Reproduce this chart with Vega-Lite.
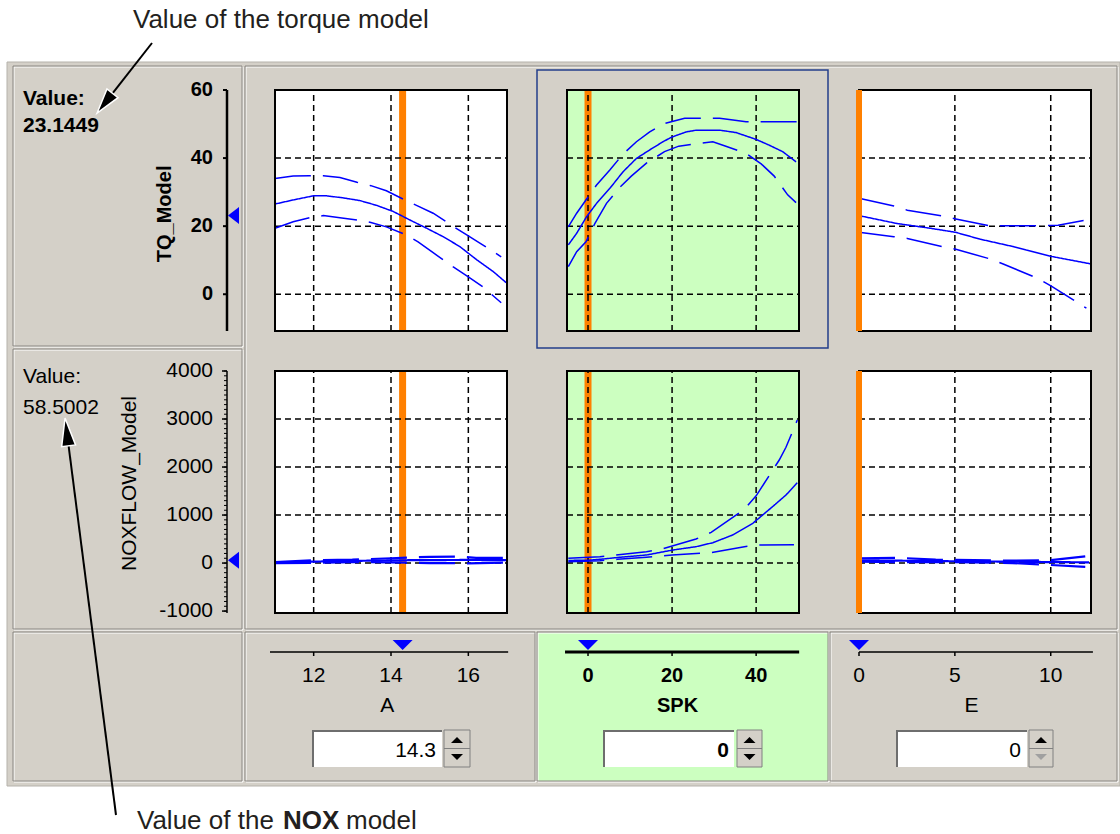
{
"$schema": "https://vega.github.io/schema/vega-lite/v6.json",
"width": 1120, "height": 834, "padding": 0, "autosize": {"type": "none"},
"background": "#FFFFFF",
"config": {"view": {"stroke": null}, "font": "Liberation Sans"},
"datasets": {
"tq_A": [
{"A":11.0,"TQ":26.5,"band":"main"},{"A":11.47,"TQ":27.7,"band":"main"},{"A":11.99,"TQ":28.9,"band":"main"},{"A":12.34,"TQ":28.9,"band":"main"},{"A":12.77,"TQ":28.3,"band":"main"},{"A":13.2,"TQ":27.5,"band":"main"},{"A":13.63,"TQ":26.1,"band":"main"},{"A":14.06,"TQ":24.3,"band":"main"},{"A":14.49,"TQ":21.8,"band":"main"},{"A":14.92,"TQ":19.4,"band":"main"},{"A":15.35,"TQ":16.9,"band":"main"},{"A":15.78,"TQ":14.0,"band":"main"},{"A":16.22,"TQ":10.1,"band":"main"},{"A":16.65,"TQ":6.6,"band":"main"},{"A":16.98,"TQ":3.4,"band":"main"},
{"A":11.0,"TQ":34.0,"band":"upper"},{"A":11.47,"TQ":34.7,"band":"upper"},{"A":11.9,"TQ":34.8,"band":"upper"},{"A":12.25,"TQ":34.8,"band":"upper"},{"A":12.68,"TQ":34.3,"band":"upper"},{"A":13.12,"TQ":32.9,"band":"upper"},{"A":13.48,"TQ":31.9,"band":"upper"},{"A":13.88,"TQ":30.4,"band":"upper"},{"A":14.36,"TQ":27.7,"band":"upper"},{"A":14.7,"TQ":25.9,"band":"upper"},{"A":15.09,"TQ":23.8,"band":"upper"},{"A":15.6,"TQ":20.0,"band":"upper"},{"A":15.99,"TQ":17.2,"band":"upper"},{"A":16.37,"TQ":14.5,"band":"upper"},{"A":16.85,"TQ":11.0,"band":"upper"},
{"A":11.0,"TQ":19.4,"band":"lower"},{"A":11.47,"TQ":21.3,"band":"lower"},{"A":11.9,"TQ":22.5,"band":"lower"},{"A":12.25,"TQ":23.1,"band":"lower"},{"A":12.68,"TQ":22.5,"band":"lower"},{"A":13.12,"TQ":21.8,"band":"lower"},{"A":13.48,"TQ":21.1,"band":"lower"},{"A":13.88,"TQ":19.8,"band":"lower"},{"A":14.36,"TQ":17.6,"band":"lower"},{"A":14.7,"TQ":15.4,"band":"lower"},{"A":15.09,"TQ":12.2,"band":"lower"},{"A":15.6,"TQ":8.1,"band":"lower"},{"A":15.99,"TQ":5.2,"band":"lower"},{"A":16.37,"TQ":2.2,"band":"lower"},{"A":16.85,"TQ":-2.5,"band":"lower"}
],
"tq_SPK": [
{"SPK":-4.69,"TQ":14.5,"band":"main"},{"SPK":-2.7,"TQ":17.9,"band":"main"},{"SPK":-0.33,"TQ":22.8,"band":"main"},{"SPK":2.04,"TQ":26.7,"band":"main"},{"SPK":5.19,"TQ":31.1,"band":"main"},{"SPK":8.35,"TQ":36.0,"band":"main"},{"SPK":11.52,"TQ":39.9,"band":"main"},{"SPK":14.68,"TQ":42.4,"band":"main"},{"SPK":17.84,"TQ":44.8,"band":"main"},{"SPK":19.8,"TQ":46.1,"band":"main"},{"SPK":23.4,"TQ":47.7,"band":"main"},{"SPK":25.75,"TQ":48.2,"band":"main"},{"SPK":31.3,"TQ":48.2,"band":"main"},{"SPK":35.2,"TQ":47.5,"band":"main"},{"SPK":39.97,"TQ":45.5,"band":"main"},{"SPK":43.1,"TQ":43.8,"band":"main"},{"SPK":46.3,"TQ":41.9,"band":"main"},{"SPK":49.5,"TQ":38.9,"band":"main"},
{"SPK":-4.69,"TQ":19.8,"band":"upper"},{"SPK":-2.7,"TQ":23.8,"band":"upper"},{"SPK":-0.49,"TQ":27.7,"band":"upper"},{"SPK":2.04,"TQ":32.1,"band":"upper"},{"SPK":5.19,"TQ":36.5,"band":"upper"},{"SPK":8.35,"TQ":41.2,"band":"upper"},{"SPK":11.52,"TQ":44.8,"band":"upper"},{"SPK":14.68,"TQ":47.7,"band":"upper"},{"SPK":17.84,"TQ":50.0,"band":"upper"},{"SPK":19.8,"TQ":50.7,"band":"upper"},{"SPK":23.0,"TQ":51.7,"band":"upper"},{"SPK":31.3,"TQ":51.7,"band":"upper"},{"SPK":34.5,"TQ":51.2,"band":"upper"},{"SPK":37.6,"TQ":50.7,"band":"upper"},{"SPK":42.8,"TQ":50.7,"band":"upper"},{"SPK":45.9,"TQ":50.7,"band":"upper"},{"SPK":50.0,"TQ":50.7,"band":"upper"},
{"SPK":-4.69,"TQ":8.1,"band":"lower"},{"SPK":-2.7,"TQ":12.5,"band":"lower"},{"SPK":-0.49,"TQ":15.4,"band":"lower"},{"SPK":1.65,"TQ":20.8,"band":"lower"},{"SPK":4.4,"TQ":26.7,"band":"lower"},{"SPK":7.56,"TQ":31.4,"band":"lower"},{"SPK":10.3,"TQ":34.7,"band":"lower"},{"SPK":13.9,"TQ":38.5,"band":"lower"},{"SPK":18.2,"TQ":41.9,"band":"lower"},{"SPK":21.6,"TQ":43.5,"band":"lower"},{"SPK":29.7,"TQ":44.8,"band":"lower"},{"SPK":32.8,"TQ":43.5,"band":"lower"},{"SPK":37.6,"TQ":41.4,"band":"lower"},{"SPK":41.2,"TQ":38.3,"band":"lower"},{"SPK":44.3,"TQ":34.7,"band":"lower"},{"SPK":47.5,"TQ":29.2,"band":"lower"},{"SPK":49.5,"TQ":26.9,"band":"lower"}
],
"tq_E": [
{"E":0.0,"TQ":23.1,"band":"main"},{"E":1.96,"TQ":20.8,"band":"main"},{"E":3.7,"TQ":19.4,"band":"main"},{"E":5.03,"TQ":18.2,"band":"main"},{"E":6.3,"TQ":16.2,"band":"main"},{"E":8.04,"TQ":14.0,"band":"main"},{"E":9.95,"TQ":11.2,"band":"main"},{"E":12.1,"TQ":8.9,"band":"main"},
{"E":0.0,"TQ":28.2,"band":"upper"},{"E":1.82,"TQ":25.9,"band":"upper"},{"E":2.52,"TQ":24.7,"band":"upper"},{"E":4.31,"TQ":23.0,"band":"upper"},{"E":5.05,"TQ":22.1,"band":"upper"},{"E":6.82,"TQ":20.1,"band":"upper"},{"E":7.86,"TQ":20.1,"band":"upper"},{"E":9.34,"TQ":20.1,"band":"upper"},{"E":10.38,"TQ":20.3,"band":"upper"},{"E":11.86,"TQ":21.8,"band":"upper"},
{"E":0.0,"TQ":18.2,"band":"lower"},{"E":1.82,"TQ":16.9,"band":"lower"},{"E":2.52,"TQ":16.4,"band":"lower"},{"E":4.31,"TQ":14.0,"band":"lower"},{"E":5.05,"TQ":13.2,"band":"lower"},{"E":6.82,"TQ":10.4,"band":"lower"},{"E":7.52,"TQ":8.9,"band":"lower"},{"E":9.34,"TQ":4.6,"band":"lower"},{"E":10.03,"TQ":2.4,"band":"lower"},{"E":11.86,"TQ":-4.1,"band":"lower"}
],
"nox_A": [
{"A":11,"NOX":10,"band":"main"},{"A":12,"NOX":30,"band":"main"},{"A":13,"NOX":45,"band":"main"},{"A":14,"NOX":55,"band":"main"},{"A":14.3,"NOX":58.5,"band":"main"},{"A":15,"NOX":62,"band":"main"},{"A":16,"NOX":65,"band":"main"},{"A":17,"NOX":60,"band":"main"},
{"A":11,"NOX":20,"band":"upper"},{"A":12,"NOX":60,"band":"upper"},{"A":13,"NOX":70,"band":"upper"},{"A":14,"NOX":100,"band":"upper"},{"A":15,"NOX":130,"band":"upper"},{"A":15.8,"NOX":135,"band":"upper"},{"A":16.2,"NOX":110,"band":"upper"},{"A":17,"NOX":110,"band":"upper"},
{"A":11,"NOX":0,"band":"lower"},{"A":12,"NOX":5,"band":"lower"},{"A":13,"NOX":20,"band":"lower"},{"A":14,"NOX":15,"band":"lower"},{"A":15,"NOX":0,"band":"lower"},{"A":16,"NOX":-5,"band":"lower"},{"A":17,"NOX":10,"band":"lower"}
],
"nox_SPK": [
{"SPK":-4.69,"NOX":55,"band":"main"},{"SPK":0,"NOX":58.5,"band":"main"},{"SPK":2.82,"NOX":78,"band":"main"},{"SPK":7.56,"NOX":120,"band":"main"},{"SPK":13.9,"NOX":168,"band":"main"},{"SPK":20.2,"NOX":272,"band":"main"},{"SPK":25.7,"NOX":341,"band":"main"},{"SPK":29.7,"NOX":424,"band":"main"},{"SPK":34.4,"NOX":584,"band":"main"},{"SPK":39.2,"NOX":828,"band":"main"},{"SPK":43.9,"NOX":1174,"band":"main"},{"SPK":47.1,"NOX":1417,"band":"main"},{"SPK":49.8,"NOX":1673,"band":"main"},
{"SPK":-4.69,"NOX":100,"band":"upper"},{"SPK":2.82,"NOX":132,"band":"upper"},{"SPK":13.9,"NOX":237,"band":"upper"},{"SPK":17.8,"NOX":300,"band":"upper"},{"SPK":25.7,"NOX":500,"band":"upper"},{"SPK":29.3,"NOX":640,"band":"upper"},{"SPK":37.2,"NOX":1120,"band":"upper"},{"SPK":40.0,"NOX":1400,"band":"upper"},{"SPK":45.5,"NOX":2146,"band":"upper"},{"SPK":47.1,"NOX":2411,"band":"upper"},{"SPK":49.8,"NOX":2979,"band":"upper"},
{"SPK":-4.69,"NOX":28,"band":"lower"},{"SPK":2.82,"NOX":49,"band":"lower"},{"SPK":7.0,"NOX":78,"band":"lower"},{"SPK":13.9,"NOX":120,"band":"lower"},{"SPK":20.0,"NOX":168,"band":"lower"},{"SPK":25.7,"NOX":200,"band":"lower"},{"SPK":29.3,"NOX":215,"band":"lower"},{"SPK":37.2,"NOX":340,"band":"lower"},{"SPK":40.0,"NOX":376,"band":"lower"},{"SPK":49.0,"NOX":380,"band":"lower"}
],
"nox_E": [
{"E":0,"NOX":58.5,"band":"main"},{"E":2,"NOX":50,"band":"main"},{"E":4,"NOX":40,"band":"main"},{"E":6,"NOX":35,"band":"main"},{"E":8,"NOX":30,"band":"main"},{"E":10,"NOX":20,"band":"main"},{"E":12,"NOX":15,"band":"main"},
{"E":0,"NOX":100,"band":"upper"},{"E":2,"NOX":110,"band":"upper"},{"E":4,"NOX":70,"band":"upper"},{"E":6,"NOX":60,"band":"upper"},{"E":8,"NOX":50,"band":"upper"},{"E":10,"NOX":60,"band":"upper"},{"E":11.8,"NOX":140,"band":"upper"},
{"E":0,"NOX":30,"band":"lower"},{"E":2,"NOX":20,"band":"lower"},{"E":4,"NOX":20,"band":"lower"},{"E":6,"NOX":15,"band":"lower"},{"E":8,"NOX":0,"band":"lower"},{"E":10,"NOX":-40,"band":"lower"},{"E":11.8,"NOX":-80,"band":"lower"}
],
"nox_minor": [
{"v":-1000},{"v":-900},{"v":-800},{"v":-700},{"v":-600},{"v":-500},{"v":-400},{"v":-300},{"v":-200},{"v":-100},{"v":0},{"v":100},{"v":200},{"v":300},{"v":400},{"v":500},{"v":600},{"v":700},{"v":800},{"v":900},{"v":1000},{"v":1100},{"v":1200},{"v":1300},{"v":1400},{"v":1500},{"v":1600},{"v":1700},{"v":1800},{"v":1900},{"v":2000},{"v":2100},{"v":2200},{"v":2300},{"v":2400},{"v":2500},{"v":2600},{"v":2700},{"v":2800},{"v":2900},{"v":3000},{"v":3100},{"v":3200},{"v":3300},{"v":3400},{"v":3500},{"v":3600},{"v":3700},{"v":3800},{"v":3900},{"v":4000}
]
},
"resolve": {"scale": {"x": "independent", "y": "independent"}, "axis": {"x": "independent", "y": "independent"}},
"layer": [
{
"data": {"values": [{}]},
"layer": [
{"mark": {"type": "rect", "fill": "#D4D0C8", "stroke": "#B5B2AB", "strokeWidth": 1}, "encoding": {"x": {"datum": 7, "type": "quantitative", "scale": {"domain": [0,1120], "range": [0,1120], "nice": false, "zero": false}, "axis": null}, "x2": {"datum": 1120}, "y": {"datum": 62, "type": "quantitative", "scale": {"domain": [0,834], "range": [0,834], "nice": false, "zero": false}, "axis": null}, "y2": {"datum": 786}}},
{"mark": {"type": "rect", "fill": "#CCFFC0"}, "encoding": {"x": {"datum": 538, "type": "quantitative", "axis": null}, "x2": {"datum": 828}, "y": {"datum": 633, "type": "quantitative", "axis": null}, "y2": {"datum": 781}}},
{"mark": {"type": "rect", "fill": "transparent", "stroke": "#FFFFFF", "strokeWidth": 1}, "encoding": {"x": {"datum": 14, "type": "quantitative", "axis": null}, "x2": {"datum": 243}, "y": {"datum": 67, "type": "quantitative", "axis": null}, "y2": {"datum": 347}}},
{"mark": {"type": "rect", "fill": "transparent", "stroke": "#8A8782", "strokeWidth": 1}, "encoding": {"x": {"datum": 13, "type": "quantitative", "axis": null}, "x2": {"datum": 242}, "y": {"datum": 66, "type": "quantitative", "axis": null}, "y2": {"datum": 346}}},
{"mark": {"type": "rect", "fill": "transparent", "stroke": "#FFFFFF", "strokeWidth": 1}, "encoding": {"x": {"datum": 14, "type": "quantitative", "axis": null}, "x2": {"datum": 243}, "y": {"datum": 350, "type": "quantitative", "axis": null}, "y2": {"datum": 630}}},
{"mark": {"type": "rect", "fill": "transparent", "stroke": "#8A8782", "strokeWidth": 1}, "encoding": {"x": {"datum": 13, "type": "quantitative", "axis": null}, "x2": {"datum": 242}, "y": {"datum": 349, "type": "quantitative", "axis": null}, "y2": {"datum": 629}}},
{"mark": {"type": "rect", "fill": "transparent", "stroke": "#FFFFFF", "strokeWidth": 1}, "encoding": {"x": {"datum": 14, "type": "quantitative", "axis": null}, "x2": {"datum": 243}, "y": {"datum": 633, "type": "quantitative", "axis": null}, "y2": {"datum": 782}}},
{"mark": {"type": "rect", "fill": "transparent", "stroke": "#8A8782", "strokeWidth": 1}, "encoding": {"x": {"datum": 13, "type": "quantitative", "axis": null}, "x2": {"datum": 242}, "y": {"datum": 632, "type": "quantitative", "axis": null}, "y2": {"datum": 781}}},
{"mark": {"type": "rect", "fill": "transparent", "stroke": "#FFFFFF", "strokeWidth": 1}, "encoding": {"x": {"datum": 246, "type": "quantitative", "axis": null}, "x2": {"datum": 1118}, "y": {"datum": 67, "type": "quantitative", "axis": null}, "y2": {"datum": 630}}},
{"mark": {"type": "rect", "fill": "transparent", "stroke": "#8A8782", "strokeWidth": 1}, "encoding": {"x": {"datum": 245, "type": "quantitative", "axis": null}, "x2": {"datum": 1117}, "y": {"datum": 66, "type": "quantitative", "axis": null}, "y2": {"datum": 629}}},
{"mark": {"type": "rect", "fill": "transparent", "stroke": "#FFFFFF", "strokeWidth": 1}, "encoding": {"x": {"datum": 246, "type": "quantitative", "axis": null}, "x2": {"datum": 536}, "y": {"datum": 633, "type": "quantitative", "axis": null}, "y2": {"datum": 782}}},
{"mark": {"type": "rect", "fill": "transparent", "stroke": "#8A8782", "strokeWidth": 1}, "encoding": {"x": {"datum": 245, "type": "quantitative", "axis": null}, "x2": {"datum": 535}, "y": {"datum": 632, "type": "quantitative", "axis": null}, "y2": {"datum": 781}}},
{"mark": {"type": "rect", "fill": "transparent", "stroke": "#FFFFFF", "strokeWidth": 1}, "encoding": {"x": {"datum": 538, "type": "quantitative", "axis": null}, "x2": {"datum": 829}, "y": {"datum": 633, "type": "quantitative", "axis": null}, "y2": {"datum": 782}}},
{"mark": {"type": "rect", "fill": "transparent", "stroke": "#8A8782", "strokeWidth": 1}, "encoding": {"x": {"datum": 537, "type": "quantitative", "axis": null}, "x2": {"datum": 828}, "y": {"datum": 632, "type": "quantitative", "axis": null}, "y2": {"datum": 781}}},
{"mark": {"type": "rect", "fill": "transparent", "stroke": "#FFFFFF", "strokeWidth": 1}, "encoding": {"x": {"datum": 831, "type": "quantitative", "axis": null}, "x2": {"datum": 1118}, "y": {"datum": 633, "type": "quantitative", "axis": null}, "y2": {"datum": 782}}},
{"mark": {"type": "rect", "fill": "transparent", "stroke": "#8A8782", "strokeWidth": 1}, "encoding": {"x": {"datum": 830, "type": "quantitative", "axis": null}, "x2": {"datum": 1117}, "y": {"datum": 632, "type": "quantitative", "axis": null}, "y2": {"datum": 781}}},
{"mark": {"type": "rect", "fill": "transparent", "stroke": "#233E8B", "strokeWidth": 1.5}, "encoding": {"x": {"datum": 537, "type": "quantitative", "axis": null}, "x2": {"datum": 828}, "y": {"datum": 70, "type": "quantitative", "axis": null}, "y2": {"datum": 348}}},

{"mark": {"type": "rect", "fill": "#FFFFFF"}, "encoding": {"x": {"datum": 312, "type": "quantitative", "axis": null}, "x2": {"datum": 442}, "y": {"datum": 730, "type": "quantitative", "axis": null}, "y2": {"datum": 767}}},
{"mark": {"type": "rule", "color": "#6E6E6E", "strokeWidth": 2}, "encoding": {"x": {"datum": 312, "type": "quantitative", "axis": null}, "x2": {"datum": 442}, "y": {"datum": 731, "type": "quantitative", "axis": null}}},
{"mark": {"type": "rule", "color": "#6E6E6E", "strokeWidth": 2}, "encoding": {"x": {"datum": 313, "type": "quantitative", "axis": null}, "y": {"datum": 730, "type": "quantitative", "axis": null}, "y2": {"datum": 767}}},
{"mark": {"type": "rect", "fill": "#FFFFFF"}, "encoding": {"x": {"datum": 603, "type": "quantitative", "axis": null}, "x2": {"datum": 734}, "y": {"datum": 730, "type": "quantitative", "axis": null}, "y2": {"datum": 767}}},
{"mark": {"type": "rule", "color": "#6E6E6E", "strokeWidth": 2}, "encoding": {"x": {"datum": 603, "type": "quantitative", "axis": null}, "x2": {"datum": 734}, "y": {"datum": 731, "type": "quantitative", "axis": null}}},
{"mark": {"type": "rule", "color": "#6E6E6E", "strokeWidth": 2}, "encoding": {"x": {"datum": 604, "type": "quantitative", "axis": null}, "y": {"datum": 730, "type": "quantitative", "axis": null}, "y2": {"datum": 767}}},
{"mark": {"type": "rect", "fill": "#FFFFFF"}, "encoding": {"x": {"datum": 896, "type": "quantitative", "axis": null}, "x2": {"datum": 1027}, "y": {"datum": 730, "type": "quantitative", "axis": null}, "y2": {"datum": 767}}},
{"mark": {"type": "rule", "color": "#6E6E6E", "strokeWidth": 2}, "encoding": {"x": {"datum": 896, "type": "quantitative", "axis": null}, "x2": {"datum": 1027}, "y": {"datum": 731, "type": "quantitative", "axis": null}}},
{"mark": {"type": "rule", "color": "#6E6E6E", "strokeWidth": 2}, "encoding": {"x": {"datum": 897, "type": "quantitative", "axis": null}, "y": {"datum": 730, "type": "quantitative", "axis": null}, "y2": {"datum": 767}}},

{"mark": {"type": "rect", "fill": "#D4D0C8", "stroke": "#808080", "strokeWidth": 1}, "encoding": {"x": {"datum": 444, "type": "quantitative", "axis": null}, "x2": {"datum": 470}, "y": {"datum": 730, "type": "quantitative", "axis": null}, "y2": {"datum": 767}}},
{"mark": {"type": "rule", "color": "#808080", "strokeWidth": 1}, "encoding": {"x": {"datum": 444, "type": "quantitative", "axis": null}, "x2": {"datum": 470}, "y": {"datum": 748.5, "type": "quantitative", "axis": null}}},
{"mark": {"type": "point", "shape": "M-1,0.5L1,0.5L0,-0.5Z", "size": 144, "filled": true, "color": "#000000", "opacity": 1}, "encoding": {"x": {"datum": 457, "type": "quantitative", "axis": null}, "y": {"datum": 740, "type": "quantitative", "axis": null}}},
{"mark": {"type": "point", "shape": "M-1,-0.5L1,-0.5L0,0.5Z", "size": 144, "filled": true, "color": "#000000", "opacity": 1}, "encoding": {"x": {"datum": 457, "type": "quantitative", "axis": null}, "y": {"datum": 757, "type": "quantitative", "axis": null}}},
{"mark": {"type": "rect", "fill": "#D4D0C8", "stroke": "#808080", "strokeWidth": 1}, "encoding": {"x": {"datum": 737, "type": "quantitative", "axis": null}, "x2": {"datum": 762}, "y": {"datum": 730, "type": "quantitative", "axis": null}, "y2": {"datum": 767}}},
{"mark": {"type": "rule", "color": "#808080", "strokeWidth": 1}, "encoding": {"x": {"datum": 737, "type": "quantitative", "axis": null}, "x2": {"datum": 762}, "y": {"datum": 748.5, "type": "quantitative", "axis": null}}},
{"mark": {"type": "point", "shape": "M-1,0.5L1,0.5L0,-0.5Z", "size": 144, "filled": true, "color": "#000000", "opacity": 1}, "encoding": {"x": {"datum": 749.5, "type": "quantitative", "axis": null}, "y": {"datum": 740, "type": "quantitative", "axis": null}}},
{"mark": {"type": "point", "shape": "M-1,-0.5L1,-0.5L0,0.5Z", "size": 144, "filled": true, "color": "#000000", "opacity": 1}, "encoding": {"x": {"datum": 749.5, "type": "quantitative", "axis": null}, "y": {"datum": 757, "type": "quantitative", "axis": null}}},
{"mark": {"type": "rect", "fill": "#D4D0C8", "stroke": "#808080", "strokeWidth": 1}, "encoding": {"x": {"datum": 1029, "type": "quantitative", "axis": null}, "x2": {"datum": 1053}, "y": {"datum": 730, "type": "quantitative", "axis": null}, "y2": {"datum": 767}}},
{"mark": {"type": "rule", "color": "#808080", "strokeWidth": 1}, "encoding": {"x": {"datum": 1029, "type": "quantitative", "axis": null}, "x2": {"datum": 1053}, "y": {"datum": 748.5, "type": "quantitative", "axis": null}}},
{"mark": {"type": "point", "shape": "M-1,0.5L1,0.5L0,-0.5Z", "size": 144, "filled": true, "color": "#000000", "opacity": 1}, "encoding": {"x": {"datum": 1041, "type": "quantitative", "axis": null}, "y": {"datum": 740, "type": "quantitative", "axis": null}}},
{"mark": {"type": "point", "shape": "M-1,-0.5L1,-0.5L0,0.5Z", "size": 144, "filled": true, "color": "#A0A0A0", "opacity": 1}, "encoding": {"x": {"datum": 1041, "type": "quantitative", "axis": null}, "y": {"datum": 757, "type": "quantitative", "axis": null}}},

{"mark": {"type": "text", "text": "Value:", "font": "Liberation Sans", "fontSize": 21, "fontWeight": "bold", "align": "left", "baseline": "alphabetic", "color": "#000000"}, "encoding": {"x": {"datum": 23, "type": "quantitative", "axis": null}, "y": {"datum": 105, "type": "quantitative", "axis": null}}},
{"mark": {"type": "text", "text": "23.1449", "font": "Liberation Sans", "fontSize": 21, "fontWeight": "bold", "align": "left", "baseline": "alphabetic", "color": "#000000"}, "encoding": {"x": {"datum": 23, "type": "quantitative", "axis": null}, "y": {"datum": 132, "type": "quantitative", "axis": null}}},
{"mark": {"type": "text", "text": "Value:", "font": "Liberation Sans", "fontSize": 21, "align": "left", "baseline": "alphabetic", "color": "#000000"}, "encoding": {"x": {"datum": 23, "type": "quantitative", "axis": null}, "y": {"datum": 383, "type": "quantitative", "axis": null}}},
{"mark": {"type": "text", "text": "58.5002", "font": "Liberation Sans", "fontSize": 21, "align": "left", "baseline": "alphabetic", "color": "#000000"}, "encoding": {"x": {"datum": 23, "type": "quantitative", "axis": null}, "y": {"datum": 414, "type": "quantitative", "axis": null}}},
{"mark": {"type": "text", "text": "14.3", "font": "Liberation Sans", "fontSize": 21, "align": "right", "baseline": "alphabetic", "color": "#000000"}, "encoding": {"x": {"datum": 436, "type": "quantitative", "axis": null}, "y": {"datum": 757, "type": "quantitative", "axis": null}}},
{"mark": {"type": "text", "text": "0", "font": "Liberation Sans", "fontSize": 21, "fontWeight": "bold", "align": "right", "baseline": "alphabetic", "color": "#000000"}, "encoding": {"x": {"datum": 729, "type": "quantitative", "axis": null}, "y": {"datum": 757, "type": "quantitative", "axis": null}}},
{"mark": {"type": "text", "text": "0", "font": "Liberation Sans", "fontSize": 21, "align": "right", "baseline": "alphabetic", "color": "#000000"}, "encoding": {"x": {"datum": 1021, "type": "quantitative", "axis": null}, "y": {"datum": 757, "type": "quantitative", "axis": null}}},
{"mark": {"type": "text", "text": "Value of the torque model", "font": "Liberation Sans", "fontSize": 26, "align": "left", "baseline": "alphabetic", "color": "#231F20"}, "encoding": {"x": {"datum": 133, "type": "quantitative", "axis": null}, "y": {"datum": 28, "type": "quantitative", "axis": null}}},
{"mark": {"type": "text", "text": "Value of the", "font": "Liberation Sans", "fontSize": 26, "align": "left", "baseline": "alphabetic", "color": "#231F20"}, "encoding": {"x": {"datum": 137, "type": "quantitative", "axis": null}, "y": {"datum": 829, "type": "quantitative", "axis": null}}},
{"mark": {"type": "text", "text": "NOX", "font": "Liberation Sans", "fontSize": 26, "fontWeight": "bold", "align": "left", "baseline": "alphabetic", "color": "#231F20"}, "encoding": {"x": {"datum": 283, "type": "quantitative", "axis": null}, "y": {"datum": 829, "type": "quantitative", "axis": null}}},
{"mark": {"type": "text", "text": "model", "font": "Liberation Sans", "fontSize": 26, "align": "left", "baseline": "alphabetic", "color": "#231F20"}, "encoding": {"x": {"datum": 346, "type": "quantitative", "axis": null}, "y": {"datum": 829, "type": "quantitative", "axis": null}}},
{"mark": {"type": "rule", "color": "#000000", "strokeWidth": 2}, "encoding": {"x": {"datum": 152, "type": "quantitative", "axis": null}, "x2": {"datum": 112.5}, "y": {"datum": 43, "type": "quantitative", "axis": null}, "y2": {"datum": 93.3}}},
{"mark": {"type": "point", "shape": "M0,-1L0.28,0L-0.28,0Z", "size": 2500, "filled": true, "fill": "#000000", "stroke": "#FFFFFF", "strokeWidth": 1.5, "opacity": 1, "angle": 218}, "encoding": {"x": {"datum": 112.5, "type": "quantitative", "axis": null}, "y": {"datum": 93.3, "type": "quantitative", "axis": null}}},
{"mark": {"type": "rule", "color": "#000000", "strokeWidth": 2}, "encoding": {"x": {"datum": 116, "type": "quantitative", "axis": null}, "x2": {"datum": 68.6}, "y": {"datum": 815, "type": "quantitative", "axis": null}, "y2": {"datum": 445.8}}},
{"mark": {"type": "point", "shape": "M0,-1L0.25,0L-0.25,0Z", "size": 3136, "filled": true, "fill": "#000000", "stroke": "#FFFFFF", "strokeWidth": 1.5, "opacity": 1, "angle": 352.7}, "encoding": {"x": {"datum": 68.6, "type": "quantitative", "axis": null}, "y": {"datum": 445.8, "type": "quantitative", "axis": null}}}
]
},

{
"layer": [
{"data": {"values": [{}]}, "mark": {"type": "rect", "fill": "#FFFFFF"}, "encoding": {"x": {"datum": 11, "type": "quantitative", "scale": {"domain": [11,17], "range": [275,507], "nice": false, "zero": false}, "axis": null}, "x2": {"datum": 17}, "y": {"datum": -10.8, "type": "quantitative", "scale": {"domain": [-10.8,60], "range": [331,90], "nice": false, "zero": false}, "axis": null}, "y2": {"datum": 60}}},
{"data": {"values": [{}]}, "mark": {"type": "rule", "color": "#FF8000", "strokeWidth": 7}, "encoding": {"x": {"datum": 14.3, "type": "quantitative", "axis": null}, "y": {"datum": -10.8, "type": "quantitative", "axis": null}, "y2": {"datum": 60}}},
{"data": {"values": [{"v": 12}, {"v": 14}, {"v": 16}]}, "mark": {"type": "rule", "color": "#000000", "strokeWidth": 1.5, "strokeDash": [6,4]}, "encoding": {"x": {"field": "v", "type": "quantitative", "axis": null}, "y": {"datum": -10.8, "type": "quantitative", "axis": null}, "y2": {"datum": 60}}},
{"data": {"values": [{"v": 0}, {"v": 20}, {"v": 40}]}, "mark": {"type": "rule", "color": "#000000", "strokeWidth": 1.5, "strokeDash": [6,4]}, "encoding": {"y": {"field": "v", "type": "quantitative", "axis": null}, "x": {"datum": 11, "type": "quantitative", "axis": null}, "x2": {"datum": 17}}},
{"data": {"name": "tq_A"}, "mark": {"type": "line", "color": "#0000FF", "strokeWidth": 1.5}, "encoding": {"x": {"field": "A", "type": "quantitative", "axis": null}, "y": {"field": "TQ", "type": "quantitative", "axis": null}, "strokeDash": {"field": "band", "type": "nominal", "scale": {"domain": ["main","upper","lower"], "range": [[1,0],[36,12],[36,12]]}, "legend": null}}},
{"data": {"values": [{}]}, "mark": {"type": "rect", "fill": "transparent", "stroke": "#000000", "strokeWidth": 2}, "encoding": {"x": {"datum": 11, "type": "quantitative", "axis": null}, "x2": {"datum": 17}, "y": {"datum": -10.8, "type": "quantitative", "axis": null}, "y2": {"datum": 60}}}
]
},

{
"layer": [
{"data": {"values": [{}]}, "mark": {"type": "rect", "fill": "#CCFFC0"}, "encoding": {"x": {"datum": -5, "type": "quantitative", "scale": {"domain": [-5,50.2], "range": [567,799], "nice": false, "zero": false}, "axis": null}, "x2": {"datum": 50.2}, "y": {"datum": -10.8, "type": "quantitative", "scale": {"domain": [-10.8,60], "range": [331,90], "nice": false, "zero": false}, "axis": null}, "y2": {"datum": 60}}},
{"data": {"values": [{}]}, "mark": {"type": "rule", "color": "#FF8000", "strokeWidth": 7}, "encoding": {"x": {"datum": 0, "type": "quantitative", "axis": null}, "y": {"datum": -10.8, "type": "quantitative", "axis": null}, "y2": {"datum": 60}}},
{"data": {"values": [{"v": 0}, {"v": 20}, {"v": 40}]}, "mark": {"type": "rule", "color": "#000000", "strokeWidth": 1.5, "strokeDash": [6,4]}, "encoding": {"x": {"field": "v", "type": "quantitative", "axis": null}, "y": {"datum": -10.8, "type": "quantitative", "axis": null}, "y2": {"datum": 60}}},
{"data": {"values": [{"v": 0}, {"v": 20}, {"v": 40}]}, "mark": {"type": "rule", "color": "#000000", "strokeWidth": 1.5, "strokeDash": [6,4]}, "encoding": {"y": {"field": "v", "type": "quantitative", "axis": null}, "x": {"datum": -5, "type": "quantitative", "axis": null}, "x2": {"datum": 50.2}}},
{"data": {"name": "tq_SPK"}, "mark": {"type": "line", "color": "#0000FF", "strokeWidth": 1.5}, "encoding": {"x": {"field": "SPK", "type": "quantitative", "axis": null}, "y": {"field": "TQ", "type": "quantitative", "axis": null}, "strokeDash": {"field": "band", "type": "nominal", "scale": {"domain": ["main","upper","lower"], "range": [[1,0],[36,12],[36,12]]}, "legend": null}}},
{"data": {"values": [{}]}, "mark": {"type": "rect", "fill": "transparent", "stroke": "#000000", "strokeWidth": 2}, "encoding": {"x": {"datum": -5, "type": "quantitative", "axis": null}, "x2": {"datum": 50.2}, "y": {"datum": -10.8, "type": "quantitative", "axis": null}, "y2": {"datum": 60}}}
]
},

{
"layer": [
{"data": {"values": [{}]}, "mark": {"type": "rect", "fill": "#FFFFFF"}, "encoding": {"x": {"datum": 0, "type": "quantitative", "scale": {"domain": [0,12.1], "range": [859,1091], "nice": false, "zero": false}, "axis": null}, "x2": {"datum": 12.1}, "y": {"datum": -10.8, "type": "quantitative", "scale": {"domain": [-10.8,60], "range": [331,90], "nice": false, "zero": false}, "axis": null}, "y2": {"datum": 60}}},
{"data": {"values": [{"v": 5}, {"v": 10}]}, "mark": {"type": "rule", "color": "#000000", "strokeWidth": 1.5, "strokeDash": [6,4]}, "encoding": {"x": {"field": "v", "type": "quantitative", "axis": null}, "y": {"datum": -10.8, "type": "quantitative", "axis": null}, "y2": {"datum": 60}}},
{"data": {"values": [{"v": 0}, {"v": 20}, {"v": 40}]}, "mark": {"type": "rule", "color": "#000000", "strokeWidth": 1.5, "strokeDash": [6,4]}, "encoding": {"y": {"field": "v", "type": "quantitative", "axis": null}, "x": {"datum": 0, "type": "quantitative", "axis": null}, "x2": {"datum": 12.1}}},
{"data": {"name": "tq_E"}, "mark": {"type": "line", "color": "#0000FF", "strokeWidth": 1.5}, "encoding": {"x": {"field": "E", "type": "quantitative", "axis": null}, "y": {"field": "TQ", "type": "quantitative", "axis": null}, "strokeDash": {"field": "band", "type": "nominal", "scale": {"domain": ["main","upper","lower"], "range": [[1,0],[36,12],[36,12]]}, "legend": null}}},
{"data": {"values": [{}]}, "mark": {"type": "rect", "fill": "transparent", "stroke": "#000000", "strokeWidth": 2}, "encoding": {"x": {"datum": 0, "type": "quantitative", "axis": null}, "x2": {"datum": 12.1}, "y": {"datum": -10.8, "type": "quantitative", "axis": null}, "y2": {"datum": 60}}},
{"data": {"values": [{}]}, "mark": {"type": "rule", "color": "#FF8000", "strokeWidth": 6}, "encoding": {"x": {"datum": 0, "type": "quantitative", "axis": null}, "y": {"datum": -10.8, "type": "quantitative", "axis": null}, "y2": {"datum": 60}}}
]
},

{
"layer": [
{"data": {"values": [{}]}, "mark": {"type": "rect", "fill": "#FFFFFF"}, "encoding": {"x": {"datum": 11, "type": "quantitative", "scale": {"domain": [11,17], "range": [275,507], "nice": false, "zero": false}, "axis": null}, "x2": {"datum": 17}, "y": {"datum": -1040, "type": "quantitative", "scale": {"domain": [-1040,4000], "range": [613,371], "nice": false, "zero": false}, "axis": null}, "y2": {"datum": 4000}}},
{"data": {"values": [{}]}, "mark": {"type": "rule", "color": "#FF8000", "strokeWidth": 7}, "encoding": {"x": {"datum": 14.3, "type": "quantitative", "axis": null}, "y": {"datum": -1040, "type": "quantitative", "axis": null}, "y2": {"datum": 4000}}},
{"data": {"values": [{"v": 12}, {"v": 14}, {"v": 16}]}, "mark": {"type": "rule", "color": "#000000", "strokeWidth": 1.5, "strokeDash": [6,4]}, "encoding": {"x": {"field": "v", "type": "quantitative", "axis": null}, "y": {"datum": -1040, "type": "quantitative", "axis": null}, "y2": {"datum": 4000}}},
{"data": {"values": [{"v": 0}, {"v": 1000}, {"v": 2000}, {"v": 3000}]}, "mark": {"type": "rule", "color": "#000000", "strokeWidth": 1.5, "strokeDash": [6,4]}, "encoding": {"y": {"field": "v", "type": "quantitative", "axis": null}, "x": {"datum": 11, "type": "quantitative", "axis": null}, "x2": {"datum": 17}}},
{"data": {"name": "nox_A"}, "mark": {"type": "line", "color": "#0000FF", "strokeWidth": 2.2}, "encoding": {"x": {"field": "A", "type": "quantitative", "axis": null}, "y": {"field": "NOX", "type": "quantitative", "axis": null}, "strokeDash": {"field": "band", "type": "nominal", "scale": {"domain": ["main","upper","lower"], "range": [[1,0],[36,12],[36,12]]}, "legend": null}}},
{"data": {"values": [{}]}, "mark": {"type": "rect", "fill": "transparent", "stroke": "#000000", "strokeWidth": 2}, "encoding": {"x": {"datum": 11, "type": "quantitative", "axis": null}, "x2": {"datum": 17}, "y": {"datum": -1040, "type": "quantitative", "axis": null}, "y2": {"datum": 4000}}}
]
},

{
"layer": [
{"data": {"values": [{}]}, "mark": {"type": "rect", "fill": "#CCFFC0"}, "encoding": {"x": {"datum": -5, "type": "quantitative", "scale": {"domain": [-5,50.2], "range": [567,799], "nice": false, "zero": false}, "axis": null}, "x2": {"datum": 50.2}, "y": {"datum": -1040, "type": "quantitative", "scale": {"domain": [-1040,4000], "range": [613,371], "nice": false, "zero": false}, "axis": null}, "y2": {"datum": 4000}}},
{"data": {"values": [{}]}, "mark": {"type": "rule", "color": "#FF8000", "strokeWidth": 7}, "encoding": {"x": {"datum": 0, "type": "quantitative", "axis": null}, "y": {"datum": -1040, "type": "quantitative", "axis": null}, "y2": {"datum": 4000}}},
{"data": {"values": [{"v": 0}, {"v": 20}, {"v": 40}]}, "mark": {"type": "rule", "color": "#000000", "strokeWidth": 1.5, "strokeDash": [6,4]}, "encoding": {"x": {"field": "v", "type": "quantitative", "axis": null}, "y": {"datum": -1040, "type": "quantitative", "axis": null}, "y2": {"datum": 4000}}},
{"data": {"values": [{"v": 0}, {"v": 1000}, {"v": 2000}, {"v": 3000}]}, "mark": {"type": "rule", "color": "#000000", "strokeWidth": 1.5, "strokeDash": [6,4]}, "encoding": {"y": {"field": "v", "type": "quantitative", "axis": null}, "x": {"datum": -5, "type": "quantitative", "axis": null}, "x2": {"datum": 50.2}}},
{"data": {"name": "nox_SPK"}, "mark": {"type": "line", "color": "#0000FF", "strokeWidth": 1.5}, "encoding": {"x": {"field": "SPK", "type": "quantitative", "axis": null}, "y": {"field": "NOX", "type": "quantitative", "axis": null}, "strokeDash": {"field": "band", "type": "nominal", "scale": {"domain": ["main","upper","lower"], "range": [[1,0],[36,12],[36,12]]}, "legend": null}}},
{"data": {"values": [{}]}, "mark": {"type": "rect", "fill": "transparent", "stroke": "#000000", "strokeWidth": 2}, "encoding": {"x": {"datum": -5, "type": "quantitative", "axis": null}, "x2": {"datum": 50.2}, "y": {"datum": -1040, "type": "quantitative", "axis": null}, "y2": {"datum": 4000}}}
]
},

{
"layer": [
{"data": {"values": [{}]}, "mark": {"type": "rect", "fill": "#FFFFFF"}, "encoding": {"x": {"datum": 0, "type": "quantitative", "scale": {"domain": [0,12.1], "range": [859,1091], "nice": false, "zero": false}, "axis": null}, "x2": {"datum": 12.1}, "y": {"datum": -1040, "type": "quantitative", "scale": {"domain": [-1040,4000], "range": [613,371], "nice": false, "zero": false}, "axis": null}, "y2": {"datum": 4000}}},
{"data": {"values": [{"v": 5}, {"v": 10}]}, "mark": {"type": "rule", "color": "#000000", "strokeWidth": 1.5, "strokeDash": [6,4]}, "encoding": {"x": {"field": "v", "type": "quantitative", "axis": null}, "y": {"datum": -1040, "type": "quantitative", "axis": null}, "y2": {"datum": 4000}}},
{"data": {"values": [{"v": 0}, {"v": 1000}, {"v": 2000}, {"v": 3000}]}, "mark": {"type": "rule", "color": "#000000", "strokeWidth": 1.5, "strokeDash": [6,4]}, "encoding": {"y": {"field": "v", "type": "quantitative", "axis": null}, "x": {"datum": 0, "type": "quantitative", "axis": null}, "x2": {"datum": 12.1}}},
{"data": {"name": "nox_E"}, "mark": {"type": "line", "color": "#0000FF", "strokeWidth": 2.2}, "encoding": {"x": {"field": "E", "type": "quantitative", "axis": null}, "y": {"field": "NOX", "type": "quantitative", "axis": null}, "strokeDash": {"field": "band", "type": "nominal", "scale": {"domain": ["main","upper","lower"], "range": [[1,0],[36,12],[36,12]]}, "legend": null}}},
{"data": {"values": [{}]}, "mark": {"type": "rect", "fill": "transparent", "stroke": "#000000", "strokeWidth": 2}, "encoding": {"x": {"datum": 0, "type": "quantitative", "axis": null}, "x2": {"datum": 12.1}, "y": {"datum": -1040, "type": "quantitative", "axis": null}, "y2": {"datum": 4000}}},
{"data": {"values": [{}]}, "mark": {"type": "rule", "color": "#FF8000", "strokeWidth": 6}, "encoding": {"x": {"datum": 0, "type": "quantitative", "axis": null}, "y": {"datum": -1040, "type": "quantitative", "axis": null}, "y2": {"datum": 4000}}}
]
},

{
"layer": [
{"data": {"values": [{}]}, "mark": {"type": "rule", "color": "#000000", "strokeWidth": 2.5}, "encoding": {"x": {"datum": 227, "type": "quantitative", "scale": {"domain": [0,1120], "range": [0,1120], "nice": false, "zero": false}, "axis": null}, "y": {"datum": -10.8, "type": "quantitative", "scale": {"domain": [-10.8,60], "range": [331,90], "nice": false, "zero": false}, "axis": null}, "y2": {"datum": 60}}},
{"data": {"values": [{"v": 0}, {"v": 20}, {"v": 40}, {"v": 60}]}, "mark": {"type": "rule", "color": "#000000", "strokeWidth": 2}, "encoding": {"x": {"datum": 223, "type": "quantitative", "axis": null}, "x2": {"datum": 227}, "y": {"field": "v", "type": "quantitative", "axis": null}}},
{"data": {"values": [{"v": 0}, {"v": 20}, {"v": 40}, {"v": 60}]}, "mark": {"type": "text", "font": "Liberation Sans", "fontSize": 20, "fontWeight": "bold", "align": "right", "baseline": "middle", "color": "#000000"}, "encoding": {"x": {"datum": 213, "type": "quantitative", "axis": null}, "y": {"field": "v", "type": "quantitative", "axis": null}, "text": {"field": "v", "type": "nominal"}}},
{"data": {"values": [{}]}, "mark": {"type": "text", "text": "TQ_Model", "font": "Liberation Sans", "fontSize": 20, "fontWeight": "bold", "align": "center", "baseline": "middle", "angle": 270, "color": "#000000"}, "encoding": {"x": {"datum": 165, "type": "quantitative", "axis": null}, "y": {"datum": 23.6, "type": "quantitative", "axis": null}}},
{"data": {"values": [{}]}, "mark": {"type": "point", "shape": "M-0.65,0L0.65,-1L0.65,1Z", "size": 289, "filled": true, "color": "#0000FF", "opacity": 1}, "encoding": {"x": {"datum": 233.5, "type": "quantitative", "axis": null}, "y": {"datum": 23.1449, "type": "quantitative", "axis": null}}}
]
},

{
"layer": [
{"data": {"values": [{}]}, "mark": {"type": "rule", "color": "#000000", "strokeWidth": 1.5}, "encoding": {"x": {"datum": 227, "type": "quantitative", "scale": {"domain": [0,1120], "range": [0,1120], "nice": false, "zero": false}, "axis": null}, "y": {"datum": -1040, "type": "quantitative", "scale": {"domain": [-1040,4000], "range": [613,371], "nice": false, "zero": false}, "axis": null}, "y2": {"datum": 4000}}},
{"data": {"name": "nox_minor"}, "mark": {"type": "rule", "color": "#000000", "strokeWidth": 1}, "encoding": {"x": {"datum": 224, "type": "quantitative", "axis": null}, "x2": {"datum": 227}, "y": {"field": "v", "type": "quantitative", "axis": null}}},
{"data": {"values": [{"v": -1000}, {"v": 0}, {"v": 1000}, {"v": 2000}, {"v": 3000}, {"v": 4000}]}, "mark": {"type": "rule", "color": "#000000", "strokeWidth": 1.5}, "encoding": {"x": {"datum": 222, "type": "quantitative", "axis": null}, "x2": {"datum": 227}, "y": {"field": "v", "type": "quantitative", "axis": null}}},
{"data": {"values": [{"v": -1000}, {"v": 0}, {"v": 1000}, {"v": 2000}, {"v": 3000}, {"v": 4000}]}, "mark": {"type": "text", "font": "Liberation Sans", "fontSize": 21, "align": "right", "baseline": "middle", "color": "#000000"}, "encoding": {"x": {"datum": 213, "type": "quantitative", "axis": null}, "y": {"field": "v", "type": "quantitative", "axis": null}, "text": {"field": "v", "type": "nominal"}}},
{"data": {"values": [{}]}, "mark": {"type": "text", "text": "NOXFLOW_Model", "font": "Liberation Sans", "fontSize": 21, "align": "center", "baseline": "middle", "angle": 270, "color": "#000000"}, "encoding": {"x": {"datum": 130, "type": "quantitative", "axis": null}, "y": {"datum": 1657, "type": "quantitative", "axis": null}}},
{"data": {"values": [{}]}, "mark": {"type": "point", "shape": "M-0.65,0L0.65,-1L0.65,1Z", "size": 289, "filled": true, "color": "#0000FF", "opacity": 1}, "encoding": {"x": {"datum": 233.5, "type": "quantitative", "axis": null}, "y": {"datum": 58.5002, "type": "quantitative", "axis": null}}}
]
},

{
"layer": [
{"data": {"values": [{}]}, "mark": {"type": "rule", "color": "#000000", "strokeWidth": 1.5}, "encoding": {"x": {"datum": 10.87, "type": "quantitative", "scale": {"domain": [11,17], "range": [275,507], "nice": false, "zero": false}, "axis": null}, "x2": {"datum": 17.03}, "y": {"datum": 652, "type": "quantitative", "scale": {"domain": [0,834], "range": [0,834], "nice": false, "zero": false}, "axis": null}}},
{"data": {"values": [{"v": 12}, {"v": 14}, {"v": 16}]}, "mark": {"type": "rule", "color": "#000000", "strokeWidth": 1.5}, "encoding": {"x": {"field": "v", "type": "quantitative", "axis": null}, "y": {"datum": 652, "type": "quantitative", "axis": null}, "y2": {"datum": 656}}},
{"data": {"values": [{"v": 12}, {"v": 14}, {"v": 16}]}, "mark": {"type": "text", "font": "Liberation Sans", "fontSize": 21, "align": "center", "baseline": "middle", "color": "#000000"}, "encoding": {"x": {"field": "v", "type": "quantitative", "axis": null}, "y": {"datum": 676, "type": "quantitative", "axis": null}, "text": {"field": "v", "type": "nominal"}}},
{"data": {"values": [{}]}, "mark": {"type": "text", "text": "A", "font": "Liberation Sans", "fontSize": 21, "align": "center", "baseline": "middle", "color": "#000000"}, "encoding": {"x": {"datum": 13.9, "type": "quantitative", "axis": null}, "y": {"datum": 706, "type": "quantitative", "axis": null}}},
{"data": {"values": [{}]}, "mark": {"type": "point", "shape": "M-1,-0.5L1,-0.5L0,0.5Z", "size": 400, "filled": true, "color": "#0000FF", "opacity": 1}, "encoding": {"x": {"datum": 14.3, "type": "quantitative", "axis": null}, "y": {"datum": 645, "type": "quantitative", "axis": null}}}
]
},

{
"layer": [
{"data": {"values": [{}]}, "mark": {"type": "rule", "color": "#000000", "strokeWidth": 3}, "encoding": {"x": {"datum": -5.47, "type": "quantitative", "scale": {"domain": [-5,50.2], "range": [567,799], "nice": false, "zero": false}, "axis": null}, "x2": {"datum": 50.24}, "y": {"datum": 652, "type": "quantitative", "scale": {"domain": [0,834], "range": [0,834], "nice": false, "zero": false}, "axis": null}}},
{"data": {"values": [{"v": 0}, {"v": 20}, {"v": 40}]}, "mark": {"type": "rule", "color": "#000000", "strokeWidth": 1.5}, "encoding": {"x": {"field": "v", "type": "quantitative", "axis": null}, "y": {"datum": 652, "type": "quantitative", "axis": null}, "y2": {"datum": 656}}},
{"data": {"values": [{"v": 0}, {"v": 20}, {"v": 40}]}, "mark": {"type": "text", "font": "Liberation Sans", "fontSize": 20, "fontWeight": "bold", "align": "center", "baseline": "middle", "color": "#000000"}, "encoding": {"x": {"field": "v", "type": "quantitative", "axis": null}, "y": {"datum": 676, "type": "quantitative", "axis": null}, "text": {"field": "v", "type": "nominal"}}},
{"data": {"values": [{}]}, "mark": {"type": "text", "text": "SPK", "font": "Liberation Sans", "fontSize": 20, "fontWeight": "bold", "align": "center", "baseline": "middle", "color": "#000000"}, "encoding": {"x": {"datum": 21.3, "type": "quantitative", "axis": null}, "y": {"datum": 706, "type": "quantitative", "axis": null}}},
{"data": {"values": [{}]}, "mark": {"type": "point", "shape": "M-1,-0.5L1,-0.5L0,0.5Z", "size": 400, "filled": true, "color": "#0000FF", "opacity": 1}, "encoding": {"x": {"datum": 0, "type": "quantitative", "axis": null}, "y": {"datum": 645, "type": "quantitative", "axis": null}}}
]
},

{
"layer": [
{"data": {"values": [{}]}, "mark": {"type": "rule", "color": "#000000", "strokeWidth": 1.5}, "encoding": {"x": {"datum": 0, "type": "quantitative", "scale": {"domain": [0,12.1], "range": [859,1091], "nice": false, "zero": false}, "axis": null}, "x2": {"datum": 12.2}, "y": {"datum": 652, "type": "quantitative", "scale": {"domain": [0,834], "range": [0,834], "nice": false, "zero": false}, "axis": null}}},
{"data": {"values": [{"v": 0}, {"v": 5}, {"v": 10}]}, "mark": {"type": "rule", "color": "#000000", "strokeWidth": 1.5}, "encoding": {"x": {"field": "v", "type": "quantitative", "axis": null}, "y": {"datum": 652, "type": "quantitative", "axis": null}, "y2": {"datum": 656}}},
{"data": {"values": [{"v": 0}, {"v": 5}, {"v": 10}]}, "mark": {"type": "text", "font": "Liberation Sans", "fontSize": 21, "align": "center", "baseline": "middle", "color": "#000000"}, "encoding": {"x": {"field": "v", "type": "quantitative", "axis": null}, "y": {"datum": 676, "type": "quantitative", "axis": null}, "text": {"field": "v", "type": "nominal"}}},
{"data": {"values": [{}]}, "mark": {"type": "text", "text": "E", "font": "Liberation Sans", "fontSize": 21, "align": "center", "baseline": "middle", "color": "#000000"}, "encoding": {"x": {"datum": 5.87, "type": "quantitative", "axis": null}, "y": {"datum": 706, "type": "quantitative", "axis": null}}},
{"data": {"values": [{}]}, "mark": {"type": "point", "shape": "M-1,-0.5L1,-0.5L0,0.5Z", "size": 400, "filled": true, "color": "#0000FF", "opacity": 1}, "encoding": {"x": {"datum": 0, "type": "quantitative", "axis": null}, "y": {"datum": 645, "type": "quantitative", "axis": null}}}
]
}
]
}
